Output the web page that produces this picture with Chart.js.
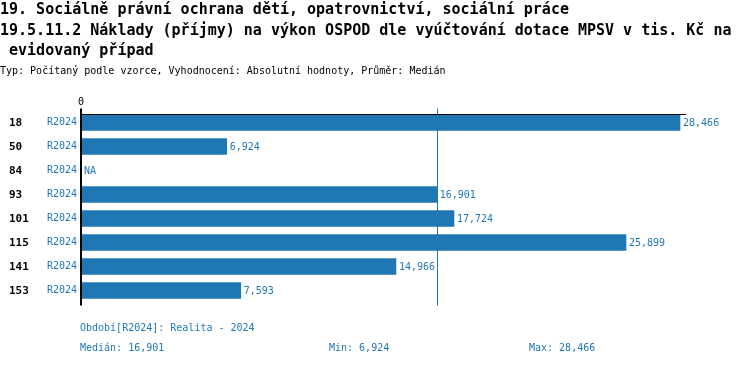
<!DOCTYPE html>
<html lang="cs">
<head>
<meta charset="utf-8">
<title>OSPOD náklady na případ</title>
<script src="https://cdn.jsdelivr.net/npm/chart.js@4.4.1/dist/chart.umd.min.js"></script>
<style>
  html, body { margin: 0; padding: 0; background: #fff; }
  #wrap { position: relative; width: 750px; height: 366px; overflow: hidden; }
  #graf { position: absolute; left: 0; top: 0; }
  .txt { position: absolute; font-family: "DejaVu Sans Mono", monospace; white-space: pre; }
  #nadpis { left: 0; top: -1px; font-size: 15px; font-weight: bold; line-height: 20.5px; color: #000; }
  #typ { left: 0; top: 65px; font-size: 10px; line-height: 12px; color: #000; }
  .pata { font-size: 10px; line-height: 20px; color: #1f77b4; }
</style>
</head>
<body>
<div id="wrap">
  <canvas id="graf" width="750" height="366"></canvas>
  <div id="nadpis" class="txt">19. Sociálně právní ochrana dětí, opatrovnictví, sociální práce
19.5.11.2 Náklady (příjmy) na výkon OSPOD dle vyúčtování dotace MPSV v tis. Kč na
 evidovaný případ</div>
  <div id="typ" class="txt">Typ: Počítaný podle vzorce, Vyhodnocení: Absolutní hodnoty, Průměr: Medián</div>
  <div id="obdobi" class="txt pata" style="left:80px; top:318px;">Období[R2024]: Realita - 2024</div>
  <div id="median" class="txt pata" style="left:80px; top:338px;"></div>
  <div id="min" class="txt pata" style="left:329px; top:338px;"></div>
  <div id="max" class="txt pata" style="left:529px; top:338px;"></div>
</div>
<script>
// data z obrázku
const kody = ['18', '50', '84', '93', '101', '115', '141', '153'];
const obdobi = ['R2024', 'R2024', 'R2024', 'R2024', 'R2024', 'R2024', 'R2024', 'R2024'];
const hodnoty = [28466, 6924, null, 16901, 17724, 25899, 14966, 7593];
const osaMax = 28750;

const modra = '#1f77b4';
const pismo = '"DejaVu Sans Mono", monospace';

// souhrnné hodnoty pro patičku a čáru mediánu
const platne = hodnoty.filter(v => v !== null).sort((a, b) => a - b);
const median = platne.length % 2
    ? platne[(platne.length - 1) / 2]
    : (platne[platne.length / 2 - 1] + platne[platne.length / 2]) / 2;
const fmt = v => v.toLocaleString('en-US');

document.getElementById('median').textContent = 'Medián: ' + fmt(median);
document.getElementById('min').textContent = 'Min: ' + fmt(platne[0]);
document.getElementById('max').textContent = 'Max: ' + fmt(platne[platne.length - 1]);

// vlastní kreslení os, mediánu a popisků
const popisky = {
    id: 'popisky',
    beforeDatasetsDraw(chart) {
        const { ctx, chartArea, scales } = chart;
        const xm = Math.round(scales.x.getPixelForValue(median)) + 0.5;
        ctx.save();
        ctx.strokeStyle = modra;
        ctx.lineWidth = 1;
        ctx.beginPath();
        ctx.moveTo(xm, chartArea.top - 2);
        ctx.lineTo(xm, chartArea.bottom + 3);
        ctx.stroke();
        ctx.restore();
    },
    afterDatasetsDraw(chart) {
        const { ctx, chartArea, scales } = chart;
        const x0 = scales.x.getPixelForValue(0);
        ctx.save();

        // osy
        ctx.strokeStyle = '#000';
        ctx.lineWidth = 1;
        ctx.beginPath();
        ctx.moveTo(x0 - 1, chartArea.top + 4);
        ctx.lineTo(chartArea.right, chartArea.top + 4);
        ctx.stroke();
        ctx.lineWidth = 2;
        ctx.beginPath();
        ctx.moveTo(x0, chartArea.top - 2);
        ctx.lineTo(x0, chartArea.bottom + 3);
        ctx.stroke();

        // nula nad osou
        ctx.fillStyle = '#000';
        ctx.font = '10px ' + pismo;
        ctx.textAlign = 'center';
        ctx.textBaseline = 'alphabetic';
        ctx.fillText('0', x0, chartArea.top - 6);

        // kódy vlevo
        ctx.textAlign = 'left';
        ctx.textBaseline = 'middle';
        ctx.font = 'bold 11px ' + pismo;
        kody.forEach((k, i) => {
            ctx.fillText(k, 9, scales.y.getPixelForValue(i) + 1);
        });

        // hodnoty za sloupci
        ctx.font = '10px ' + pismo;
        hodnoty.forEach((v, i) => {
            const y = scales.y.getPixelForValue(i) + 1;
            const text = v === null ? 'NA' : fmt(v);
            const x = (v === null ? x0 : scales.x.getPixelForValue(v)) + 3;
            const w = ctx.measureText(text).width;
            ctx.fillStyle = '#fff';
            ctx.fillRect(x - 1, y - 7, w + 2, 14);
            ctx.fillStyle = modra;
            ctx.fillText(text, x, y);
        });
        ctx.restore();
    }
};

new Chart(document.getElementById('graf'), {
    type: 'bar',
    data: {
        labels: obdobi,
        datasets: [{
            data: hodnoty,
            backgroundColor: modra,
            barThickness: 16
        }]
    },
    options: {
        indexAxis: 'y',
        responsive: false,
        animation: false,
        layout: { padding: { left: 0, right: 64, top: 110.5, bottom: 63.5 } },
        plugins: {
            legend: { display: false },
            tooltip: { enabled: false }
        },
        scales: {
            x: {
                display: false,
                min: 0,
                max: osaMax
            },
            y: {
                grid: { display: false, drawTicks: false },
                border: { display: false },
                ticks: {
                    color: modra,
                    font: { family: pismo, size: 10 },
                    padding: 4
                },
                afterFit(scale) { scale.width = 81; }
            }
        }
    },
    plugins: [popisky]
});
</script>
</body>
</html>
